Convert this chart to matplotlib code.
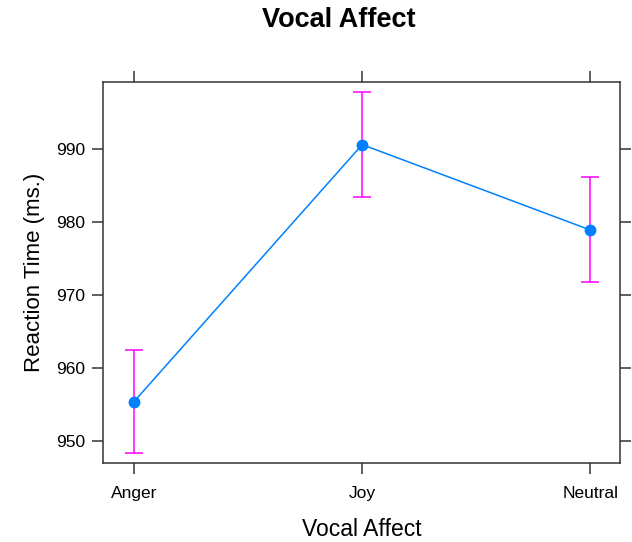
import matplotlib.pyplot as plt

# valeurs
affects = ["Anger", "Joy", "Neutral"]
moyennes = [955.4, 990.6, 978.9]
hauts = [962.4, 997.8, 986.1]
bas = [948.3, 983.4, 971.8]

plt.rcParams['font.family'] = ['Liberation Sans', 'DejaVu Sans']

fig = plt.figure(figsize=(6.32, 5.42), dpi=100)
ax = fig.add_axes([0.163, 0.146, 0.818, 0.703])

x = list(range(1, len(affects) + 1))
err = [[m - b for m, b in zip(moyennes, bas)], [h - m for m, h in zip(moyennes, hauts)]]

ax.errorbar(x, moyennes, yerr=err, fmt="none", ecolor="#ff00ff", elinewidth=1.1,
            capsize=6.5, capthick=1.1, zorder=2)
ax.plot(x, moyennes, color="#0080ff", lw=1.1, marker="o", markersize=7.5, zorder=3)

ax.set_xlim(0.864, 3.13)
ax.set_ylim(947.0, 999.2)
ax.set_xticks(x)
ax.set_xticklabels(affects)
ax.set_yticks([950, 960, 970, 980, 990])

for s in ax.spines.values():
    s.set_color("#333333")
    s.set_linewidth(1.1)
ax.tick_params(direction="out", length=8, width=1.1, color="#333333",
               top=True, right=True, labelsize=12.5)
ax.tick_params(axis="x", pad=9)
ax.tick_params(axis="y", pad=5)

fig.text(339 / 632, 1 - 20 / 542, "Vocal Affect", fontsize=19.5, fontweight="bold",
         ha="center", va="center")
ax.set_xlabel("Vocal Affect", fontsize=16.5, labelpad=12)
ax.set_ylabel("Reaction Time (ms.)", fontsize=16, labelpad=8)

fig.savefig("out.png", dpi=100)
